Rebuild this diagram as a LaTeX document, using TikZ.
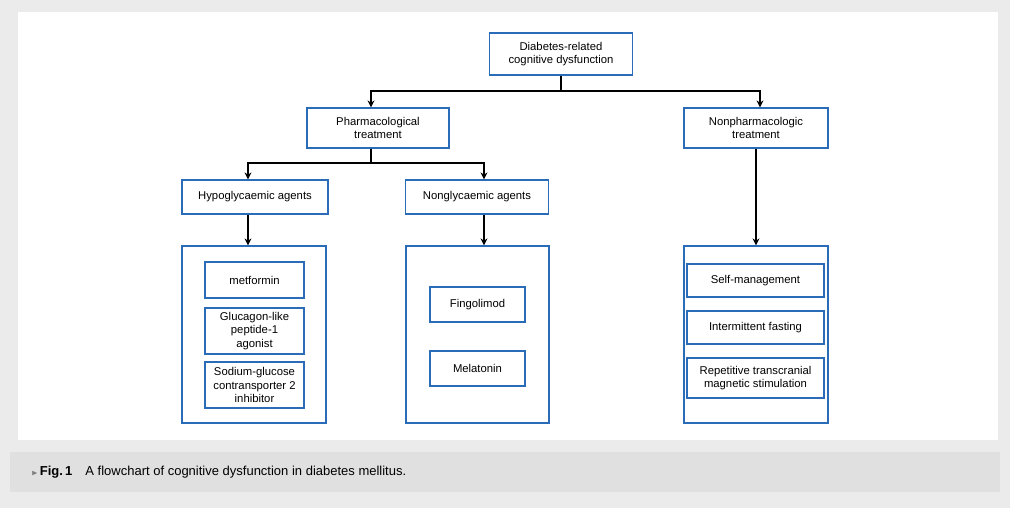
\documentclass[tikz,border=0pt]{standalone}
\usepackage{amssymb}
\usepackage{fontspec}
\setmainfont{Liberation Sans}
\usetikzlibrary{positioning,arrows.meta}
\definecolor{boxblue}{HTML}{2B6CB8}
\definecolor{panelgray}{HTML}{EBEBEB}
\tikzset{
  box/.style={draw=boxblue, line width=1.2pt, align=center, font=\fontsize{11.3}{13.5}\selectfont, inner sep=1pt},
  group/.style={draw=boxblue, line width=1.2pt},
  link/.style={-{Stealth[length=7pt,width=7pt]}, line width=1.1pt}
}
\begin{document}
\begin{tikzpicture}[x=1pt,y=-1pt]

%% background
\fill[panelgray] (0,0) rectangle (1010,508);
\fill[white] (18,12) rectangle (998,440);
\fill[black!12] (10,452) rectangle (1000,492);

%% top levels
\node[box, minimum width=143, minimum height=42] (root) at (561,54) {Diabetes-related\\cognitive dysfunction};
\node[box, minimum width=142, minimum height=40] (pharm) at (378,128) {Pharmacological\\treatment};
\node[box, minimum width=144, minimum height=40] (nonpharm) at (756,128) {Nonpharmacologic\\treatment};
\node[box, minimum width=146, minimum height=34] (hypo) at (255,197) {Hypoglycaemic agents};
\node[box, minimum width=143, minimum height=34] (nongly) at (477,197) {Nonglycaemic agents};

%% groups
\node[group, minimum width=144, minimum height=177] (hypogrp) at (254,334.5) {};
\node[group, minimum width=143, minimum height=177] (nonglygrp) at (477.5,334.5) {};
\node[group, minimum width=144, minimum height=177] (nonpharmgrp) at (756,334.5) {};

%% group members
\node[box, minimum width=99, minimum height=36] (metformin) at (254.5,280) {metformin};
\node[box, minimum width=99, minimum height=46] (glp) at (254.5,331) {Glucagon-like\\peptide-1\\agonist};
\node[box, minimum width=99, minimum height=46] (sglt) at (254.5,385) {Sodium-glucose\\contransporter 2\\inhibitor};
\node[box, minimum width=95, minimum height=35] (fingo) at (477.5,304.5) {Fingolimod};
\node[box, minimum width=95, minimum height=35] (melatonin) at (477.5,368.5) {Melatonin};
\node[box, minimum width=137, minimum height=33] (selfman) at (755.5,280.5) {Self-management};
\node[box, minimum width=137, minimum height=33] (fasting) at (755.5,327.5) {Intermittent fasting};
\node[box, minimum width=137, minimum height=40] (rtms) at (755.5,378) {Repetitive transcranial\\magnetic stimulation};

%% connectors
\coordinate (split1) at (561,91);
\coordinate (split2) at (371,163);
\draw[line width=1.1pt] (root.south) -- (split1);
\draw[link] (split1) -| ([xshift=-7pt]pharm.north);
\draw[link] (split1) -| ([xshift=4pt]nonpharm.north);
\draw[line width=1.1pt] ([xshift=-7pt]pharm.south) -- (split2);
\draw[link] (split2) -| ([xshift=-7pt]hypo.north);
\draw[link] (split2) -| ([xshift=7pt]nongly.north);
\draw[link] ([xshift=-7pt]hypo.south) -- ([xshift=-6pt]hypogrp.north);
\draw[link] ([xshift=7pt]nongly.south) -- ([xshift=6.5pt]nonglygrp.north);
\draw[link] (nonpharm.south) -- (nonpharmgrp.north);

%% caption
\node[anchor=west, font=\fontsize{13}{15}\selectfont] (caption) at (28,472)
  {\textcolor{gray}{\footnotesize$\blacktriangleright$}\,\textbf{Fig.\,1}\quad A flowchart of cognitive dysfunction in diabetes mellitus.};
\end{tikzpicture}
\end{document}
